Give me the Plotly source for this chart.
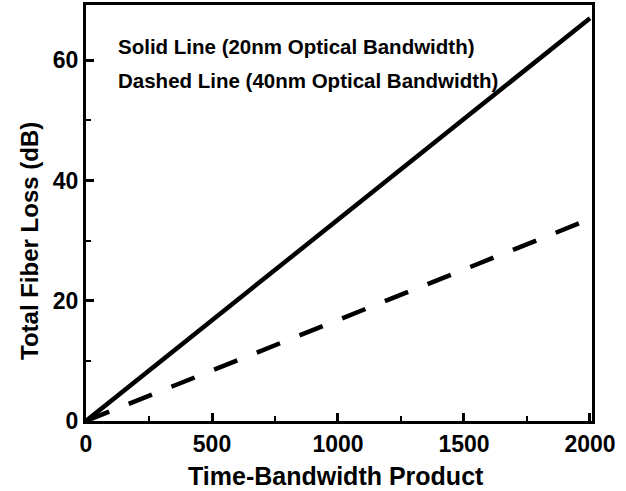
import plotly.graph_objects as go

tbp = [0, 2000]
loss_20nm = [0, 67.0]
loss_40nm = [0, 33.6]

x_ticks = [0, 500, 1000, 1500, 2000]
y_ticks = [0, 20, 40, 60]

notes = ["Solid Line (20nm Optical Bandwidth)", "Dashed Line (40nm Optical Bandwidth)"]
x_title = "Time-Bandwidth Product"
y_title = "Total Fiber Loss (dB)"

font_family = "Liberation Sans, Arial, sans-serif"

W, H = 626, 491
L, R, T, B = 86, 34, 5, 70
pw, ph = W - L - R, H - T - B


def px(x):
    return (x - L) / pw


def py(y):
    return (H - B - y) / ph


fig = go.Figure()
fig.add_trace(go.Scatter(x=tbp, y=loss_20nm, mode="lines",
                         line=dict(color="black", width=4.5), showlegend=False))
fig.add_trace(go.Scatter(x=tbp, y=loss_40nm, mode="lines",
                         line=dict(color="black", width=4.5, dash="25px,21px"), showlegend=False))

for note, yy in zip(notes, [47, 80]):
    fig.add_annotation(x=px(116), y=py(yy), xref="paper", yref="paper",
                       text="<b>" + note + "</b>", showarrow=False,
                       xanchor="left", yanchor="middle",
                       font=dict(family=font_family, size=20.5, color="black"))

fig.add_annotation(x=px(336), y=py(476), xref="paper", yref="paper",
                   text="<b>" + x_title + "</b>", showarrow=False,
                   xanchor="center", yanchor="middle",
                   font=dict(family=font_family, size=25, color="black"))
fig.add_annotation(x=px(29), y=py(241), xref="paper", yref="paper",
                   text="<b>" + y_title + "</b>", showarrow=False, textangle=-90,
                   xanchor="center", yanchor="middle",
                   font=dict(family=font_family, size=24, color="black"))

axis_common = dict(showline=True, linecolor="black", linewidth=3, mirror=True,
                   ticks="inside", ticklen=8, tickwidth=2.5, tickcolor="black",
                   showgrid=False, zeroline=False, automargin=False,
                   tickfont=dict(family=font_family, size=23, color="black", weight="bold"))

fig.update_xaxes(range=[0, 2008], tickvals=x_ticks, ticktext=[str(v) for v in x_ticks],
                 minor=dict(ticks="inside", ticklen=5, tickwidth=2, tickcolor="black",
                            tickvals=[250, 750, 1250, 1750]),
                 **axis_common)
fig.update_yaxes(range=[0, 69.2], tickvals=y_ticks, ticktext=[str(v) for v in y_ticks],
                 minor=dict(ticks="inside", ticklen=5, tickwidth=2, tickcolor="black",
                            tickvals=[10, 30, 50]),
                 **axis_common)

fig.update_layout(width=W, height=H, plot_bgcolor="white", paper_bgcolor="white",
                  margin=dict(l=L, r=R, t=T, b=B))

fig.write_html("out.html", config={"displayModeBar": False},
               post_script="document.body.style.margin='0';document.body.style.padding='0';")
